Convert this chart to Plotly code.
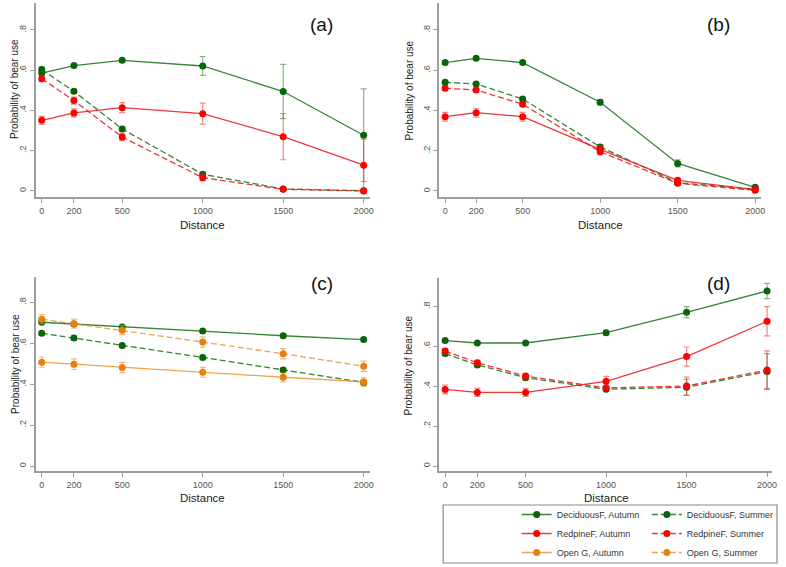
import plotly.graph_objects as go

DISTANCE = [0, 200, 500, 1000, 1500, 2000]
X_TICKS = ["0", "200", "500", "1000", "1500", "2000"]
Y_TICKVALS = [0, 0.2, 0.4, 0.6, 0.8]
Y_TICKTEXT = ["0", ".2", ".4", ".6", ".8"]

# panel (a)
A_DECID_AUT = [0.586, 0.623, 0.649, 0.621, 0.494, 0.277]
A_DECID_AUT_CI = [0.012, 0.008, 0.008, 0.047, 0.135, 0.23]
A_DECID_SUM = [0.603, 0.495, 0.308, 0.083, 0.010, 0.001]
A_DECID_SUM_CI = [0.012, 0.010, 0.012, 0.010, 0.005, 0.002]
A_RED_AUT = [0.351, 0.388, 0.414, 0.384, 0.270, 0.128]
A_RED_AUT_CI = [0.020, 0.020, 0.025, 0.052, 0.115, 0.130]
A_RED_SUM = [0.558, 0.449, 0.268, 0.066, 0.008, 0.000]
A_RED_SUM_CI = [0.015, 0.018, 0.018, 0.015, 0.008, 0.002]

# panel (b)
B_DECID_AUT = [0.638, 0.659, 0.638, 0.441, 0.137, 0.018]
B_DECID_AUT_CI = [0.010, 0.008, 0.008, 0.013, 0.018, 0.006]
B_DECID_SUM = [0.540, 0.532, 0.457, 0.219, 0.041, 0.008]
B_DECID_SUM_CI = [0.010, 0.010, 0.010, 0.010, 0.006, 0.003]
B_RED_AUT = [0.369, 0.389, 0.369, 0.207, 0.053, 0.007]
B_RED_AUT_CI = [0.022, 0.022, 0.022, 0.018, 0.010, 0.004]
B_RED_SUM = [0.510, 0.502, 0.431, 0.195, 0.038, 0.003]
B_RED_SUM_CI = [0.012, 0.012, 0.012, 0.015, 0.008, 0.003]

# panel (c)
C_DECID_AUT = [0.703, 0.694, 0.680, 0.660, 0.637, 0.618]
C_DECID_AUT_CI = [0.008, 0.008, 0.008, 0.008, 0.008, 0.008]
C_DECID_SUM = [0.649, 0.626, 0.589, 0.531, 0.470, 0.409]
C_DECID_SUM_CI = [0.010, 0.010, 0.010, 0.010, 0.010, 0.010]
C_OPEN_AUT = [0.508, 0.498, 0.482, 0.458, 0.434, 0.412]
C_OPEN_AUT_CI = [0.025, 0.026, 0.025, 0.024, 0.022, 0.022]
C_OPEN_SUM = [0.718, 0.696, 0.664, 0.606, 0.549, 0.488]
C_OPEN_SUM_CI = [0.022, 0.022, 0.022, 0.025, 0.025, 0.025]

# panel (d)
D_DECID_AUT = [0.629, 0.617, 0.617, 0.669, 0.771, 0.878]
D_DECID_AUT_CI = [0.008, 0.006, 0.006, 0.012, 0.028, 0.038]
D_DECID_SUM = [0.564, 0.507, 0.443, 0.385, 0.395, 0.474]
D_DECID_SUM_CI = [0.010, 0.010, 0.010, 0.010, 0.040, 0.090]
D_RED_AUT = [0.384, 0.369, 0.369, 0.425, 0.549, 0.726]
D_RED_AUT_CI = [0.022, 0.020, 0.020, 0.025, 0.048, 0.073]
D_RED_SUM = [0.577, 0.518, 0.451, 0.392, 0.401, 0.482]
D_RED_SUM_CI = [0.012, 0.012, 0.012, 0.012, 0.045, 0.095]

DASH = "6px,3px"
SERIES = {
    "DeciduousF, Autumn": dict(marker="#0a640a", line="rgba(20,110,20,0.85)", err="rgba(20,110,20,0.5)", dash="solid", leg="legend", rank=1),
    "RedpineF, Autumn": dict(marker="#ff0000", line="rgba(235,20,20,0.85)", err="rgba(220,40,40,0.55)", dash="solid", leg="legend", rank=2),
    "Open G, Autumn": dict(marker="#e5820f", line="rgba(232,140,40,0.8)", err="rgba(230,140,40,0.6)", dash="solid", leg="legend", rank=3),
    "DeciduousF, Summer": dict(marker="#0a640a", line="rgba(20,110,20,0.85)", err="rgba(20,110,20,0.5)", dash=DASH, leg="legend2", rank=4),
    "RedpineF, Summer": dict(marker="#ff0000", line="rgba(235,20,20,0.85)", err="rgba(220,40,40,0.55)", dash=DASH, leg="legend2", rank=5),
    "Open G, Summer": dict(marker="#e5820f", line="rgba(232,140,40,0.8)", err="rgba(230,140,40,0.6)", dash=DASH, leg="legend2", rank=6),
}

PANELS = [
    ("x", "y", [
        ("DeciduousF, Summer", A_DECID_SUM, A_DECID_SUM_CI),
        ("DeciduousF, Autumn", A_DECID_AUT, A_DECID_AUT_CI),
        ("RedpineF, Summer", A_RED_SUM, A_RED_SUM_CI),
        ("RedpineF, Autumn", A_RED_AUT, A_RED_AUT_CI),
    ]),
    ("x2", "y2", [
        ("DeciduousF, Summer", B_DECID_SUM, B_DECID_SUM_CI),
        ("DeciduousF, Autumn", B_DECID_AUT, B_DECID_AUT_CI),
        ("RedpineF, Summer", B_RED_SUM, B_RED_SUM_CI),
        ("RedpineF, Autumn", B_RED_AUT, B_RED_AUT_CI),
    ]),
    ("x3", "y3", [
        ("DeciduousF, Autumn", C_DECID_AUT, C_DECID_AUT_CI),
        ("DeciduousF, Summer", C_DECID_SUM, C_DECID_SUM_CI),
        ("Open G, Autumn", C_OPEN_AUT, C_OPEN_AUT_CI),
        ("Open G, Summer", C_OPEN_SUM, C_OPEN_SUM_CI),
    ]),
    ("x4", "y4", [
        ("DeciduousF, Summer", D_DECID_SUM, D_DECID_SUM_CI),
        ("DeciduousF, Autumn", D_DECID_AUT, D_DECID_AUT_CI),
        ("RedpineF, Summer", D_RED_SUM, D_RED_SUM_CI),
        ("RedpineF, Autumn", D_RED_AUT, D_RED_AUT_CI),
    ]),
]

W, H = 786, 567
FONT = "Liberation Sans, Arial, sans-serif"

fig = go.Figure()
seen = set()
for xa, ya, series in PANELS:
    for name, vals, ci in series:
        st = SERIES[name]
        fig.add_trace(go.Scatter(
            x=DISTANCE, y=vals, name=name, xaxis=xa, yaxis=ya,
            mode="lines+markers",
            line=dict(color=st["line"], width=1.3, dash=st["dash"]),
            marker=dict(color=st["marker"], size=7),
            error_y=dict(type="data", array=ci, color=st["err"], thickness=1.2, width=3),
            legend=st["leg"], legendrank=st["rank"],
            showlegend=name not in seen,
        ))
        seen.add(name)

# panel geometry in pixels: (x-axis left, right, y-axis top, bottom, x range, y range)
GEOM = {
    "": (36, 372, 3, 197, [-37, 2037], [-0.030, 0.934]),
    "2": (442, 766, 3, 197, [-38.5, 2038.5], [-0.030, 0.934]),
    "3": (36, 372, 277, 471, [-37, 2037], [-0.024, 0.924]),
    "4": (442, 777, 278, 471, [-37, 2031], [-0.025, 0.943]),
}

axis_style = dict(
    showline=True, linecolor="#9c9c9c", linewidth=1.6,
    ticks="outside", ticklen=4, tickcolor="#9c9c9c", tickwidth=1.2,
    showgrid=False, zeroline=False,
    tickfont=dict(size=9, color="#555555", family=FONT),
)
layout_axes = {}
for k, (l, r, t, b, xr, yr) in GEOM.items():
    layout_axes["xaxis" + k] = dict(
        axis_style, domain=[l / W, r / W], range=xr, anchor="y" + k,
        tickmode="array", tickvals=DISTANCE, ticktext=X_TICKS,
    )
    layout_axes["yaxis" + k] = dict(
        axis_style, domain=[1 - b / H, 1 - t / H], range=yr, anchor="x" + k,
        tickmode="array", tickvals=Y_TICKVALS, ticktext=Y_TICKTEXT, tickangle=-90,
    )

ann = []
# panel letters
for text, cx, cy in [("(a)", 324, 25), ("(b)", 723, 25), ("(c)", 324, 283), ("(d)", 723, 283)]:
    ann.append(dict(text=text, x=cx / W, y=1 - cy / H, xref="paper", yref="paper",
                    xanchor="center", yanchor="middle", showarrow=False,
                    font=dict(size=19, color="#111111", family=FONT)))
# axis titles
for cx, cy in [(204, 225), (604, 225), (204, 498), (610, 498)]:
    ann.append(dict(text="Distance", x=cx / W, y=1 - cy / H, xref="paper", yref="paper",
                    xanchor="center", yanchor="middle", showarrow=False,
                    font=dict(size=11.5, color="#222222", family=FONT)))
for cx, cy in [(15, 89), (412, 90), (15, 364), (411, 365)]:
    ann.append(dict(text="Probability of bear use", x=cx / W, y=1 - cy / H, xref="paper", yref="paper",
                    xanchor="center", yanchor="middle", showarrow=False, textangle=-90,
                    font=dict(size=10, color="#222222", family=FONT)))

legend_style = dict(
    orientation="v", xanchor="left", yanchor="bottom", y=0, bgcolor="rgba(0,0,0,0)",
    font=dict(size=9, color="#333333", family=FONT), tracegroupgap=0,
    itemclick=False, itemdoubleclick=False,
)

fig.update_layout(
    width=W, height=H,
    margin=dict(l=0, r=0, t=0, b=0),
    paper_bgcolor="white", plot_bgcolor="white",
    font=dict(family=FONT),
    annotations=ann,
    legend=dict(legend_style, x=520 / W),
    legend2=dict(legend_style, x=651 / W),
    shapes=[dict(type="rect", xref="paper", yref="paper",
                 x0=446 / W, x1=782 / W, y0=1 - 563 / H, y1=1 - 505 / H,
                 line=dict(color="#8a8a8a", width=1.2), fillcolor="rgba(0,0,0,0)")],
    **layout_axes,
)

# the page body has a default 8px margin; drop it so the figure fills the window
fig.write_html("out.html", config={"displayModeBar": False},
               post_script="document.body.style.margin='0px';")
